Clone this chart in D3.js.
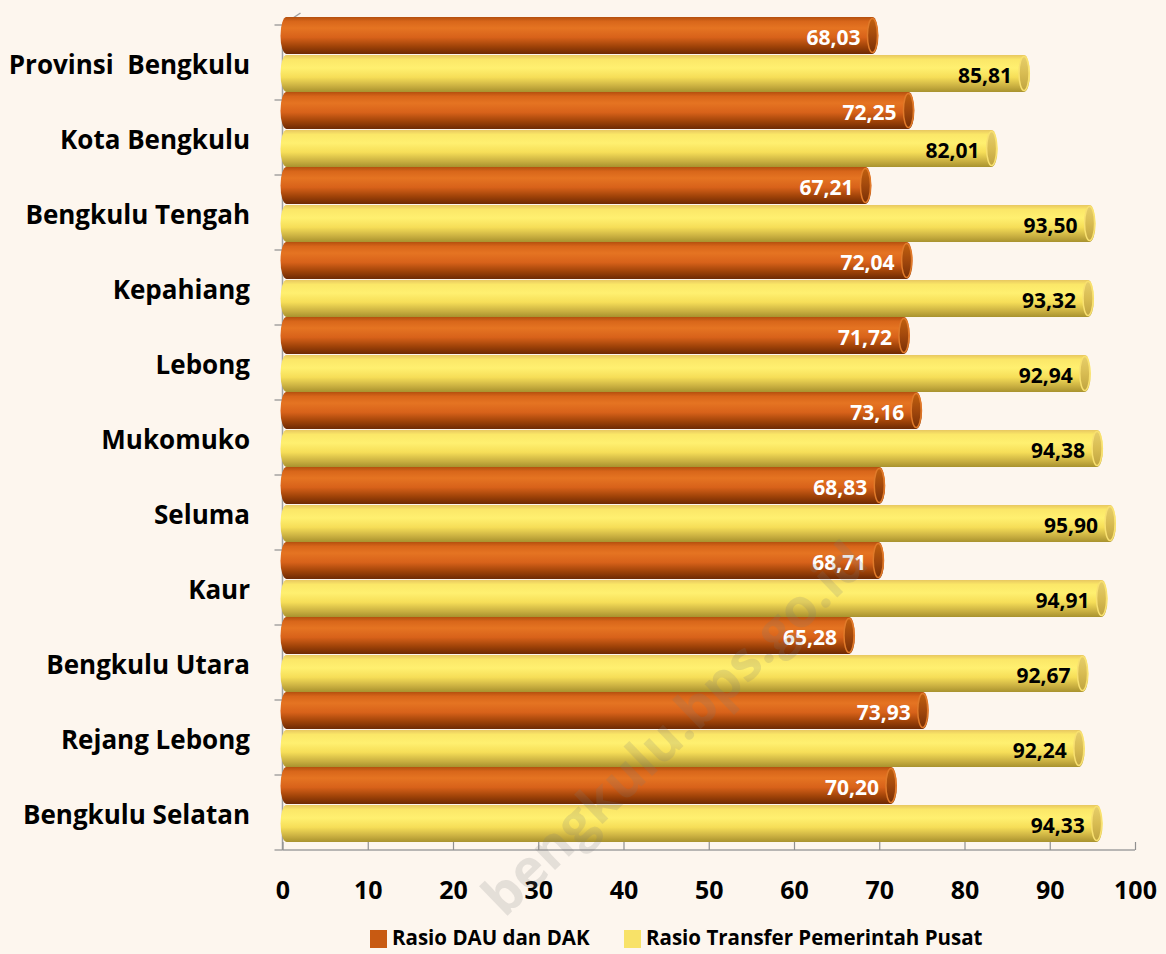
<!DOCTYPE html>
<html><head><meta charset="utf-8">
<script src="https://cdn.jsdelivr.net/npm/d3@7"></script>
<style>
html,body{margin:0;padding:0;background:#FDF6EE;}
svg{display:block;}
</style></head>
<body>
<svg id="chart" width="1166" height="954"></svg>
<script>
const categories = ["Provinsi  Bengkulu","Kota Bengkulu","Bengkulu Tengah","Kepahiang","Lebong","Mukomuko","Seluma","Kaur","Bengkulu Utara","Rejang Lebong","Bengkulu Selatan"];
const rasioDAU = [68.03,72.25,67.21,72.04,71.72,73.16,68.83,68.71,65.28,73.93,70.20];
const rasioTransfer = [85.81,82.01,93.50,93.32,92.94,94.38,95.90,94.91,92.67,92.24,94.33];
const xTicks = [0,10,20,30,40,50,60,70,80,90,100];
const seriesNames = ["Rasio DAU dan DAK","Rasio Transfer Pemerintah Pusat"];

const svg = d3.select("#chart");
const FONT = "'Open Sans', 'Noto Sans', sans-serif";
svg.append("rect").attr("width",1166).attr("height",954).attr("fill","#FDF6EE");

const x = d3.scaleLinear().domain([0,100]).range([282.5,1135]);
const y = d3.scaleBand().domain(categories).range([25,850]).paddingInner(0).paddingOuter(0);
const sub = d3.scaleBand().domain([0,1]).range([0,y.bandwidth()]).paddingInner(0.03).paddingOuter(0.0);
const SHIFT = -8; // 3D depth offset of bars

const defs = svg.append("defs");
function grad(id, stops){
  const g = defs.append("linearGradient").attr("id",id).attr("x1",0).attr("y1",0).attr("x2",0).attr("y2",1);
  stops.forEach(s=>g.append("stop").attr("offset",s[0]).attr("stop-color",s[1]));
}
grad("gOrange",[[0,"#B4500E"],[0.12,"#D8661A"],[0.3,"#E57422"],[0.55,"#D8621A"],[0.8,"#9E4208"],[1,"#6E2A04"]]);
grad("gYellow",[[0,"#E8C860"],[0.12,"#FBE768"],[0.35,"#FFF070"],[0.6,"#F6DE58"],[0.85,"#C8AE40"],[1,"#A8922E"]]);
grad("gOrangeCap",[[0,"#C0600E"],[0.5,"#A2480C"],[1,"#7A3006"]]);
grad("gYellowCap",[[0,"#E6CE6A"],[0.5,"#D8BC52"],[1,"#C0A440"]]);

// 3D axis wall edges
const axisG = svg.append("g");
axisG.append("line").attr("x1",x(0)).attr("x2",x(0)).attr("y1",25).attr("y2",850).attr("stroke","#A0A0A0").attr("stroke-width",1.5);
axisG.append("line").attr("x1",x(0)).attr("x2",x(0)+18).attr("y1",25).attr("y2",13).attr("stroke","#A0A0A0").attr("stroke-width",1.5);
const catTicks = categories.map(c=>y(c)).concat([850]);
axisG.selectAll(".ct").data(catTicks).enter().append("line")
  .attr("x1",x(0)-8).attr("x2",x(0)).attr("y1",d=>d).attr("y2",d=>d).attr("stroke","#909090").attr("stroke-width",1.2);

// x axis
const xAxis = d3.axisBottom(x).tickValues(xTicks).tickSize(8).tickFormat(d3.format("d"));
const xg = svg.append("g").attr("transform","translate(0,850)").call(xAxis);
xg.select(".domain").attr("stroke","#A0A0A0").attr("stroke-width",1.5).attr("d",`M${x(0)},0H${x(100)}`);
xg.selectAll(".tick line").attr("stroke","#909090").attr("stroke-width",1.2).attr("y1",-8).attr("y2",0);
xg.selectAll(".tick text").attr("font-family",FONT).attr("font-weight","bold").attr("font-size","25px").attr("fill","#000").attr("dy","1.5em");

// category labels
svg.append("g").selectAll("text").data(categories).enter().append("text")
  .attr("x",250).attr("y",d=>y(d)+y.bandwidth()/2+2).attr("dy","0.36em")
  .attr("text-anchor","end").attr("font-family",FONT).attr("font-weight","bold").attr("font-size","26px")
  .attr("fill","#000").style("white-space","pre").text(d=>d);

// bars
const series = [
  {vals:rasioDAU, grad:"gOrange", cap:"gOrangeCap", rim:"#E07A2A", label:"#FFFFFF"},
  {vals:rasioTransfer, grad:"gYellow", cap:"gYellowCap", rim:"#F8E070", label:"#000000"}
];
const DEPTH = 10;
series.forEach((s,si)=>{
  const g = svg.append("g");
  const data = categories.map((c,i)=>({c, v:s.vals[i]}));
  const bh = sub.bandwidth();
  const rx = 6;
  const top = d => y(d.c)+sub(si)+SHIFT;
  const items = g.selectAll("g.bar").data(data).enter().append("g").attr("class","bar");
  items.append("path").attr("d",d=>{
    const y0 = top(d), y1 = y0+bh;
    const x0 = x(0)+4, x1 = x(d.v)+DEPTH;
    return `M${x0},${y0} L${x1},${y0} A${rx},${bh/2} 0 0 1 ${x1},${y1} L${x0},${y1} A${rx},${bh/2} 0 0 1 ${x0},${y0} Z`;
  }).attr("fill",`url(#${s.grad})`);
  items.append("ellipse")
    .attr("cx",d=>x(d.v)+DEPTH).attr("cy",d=>top(d)+bh/2)
    .attr("rx",rx-1).attr("ry",bh/2-1.5)
    .attr("fill",`url(#${s.cap})`).attr("stroke",s.rim).attr("stroke-width",1.5);
  items.append("text")
    .attr("x",d=>x(d.v)-2).attr("y",d=>top(d)+bh/2+2).attr("dy","0.36em")
    .attr("text-anchor","end").attr("font-family",FONT).attr("font-weight","bold").attr("font-size","21px")
    .attr("fill",s.label).text(d=>d3.format(".2f")(d.v).replace(".",","));
});

// legend
const legend = svg.append("g");
const legX = [370, 624];
seriesNames.forEach((n,i)=>{
  legend.append("rect").attr("x",legX[i]).attr("y",930).attr("width",17).attr("height",18)
    .attr("fill", i===0?"#C85A12":"#F8E268");
  legend.append("text").attr("x",legX[i]+22).attr("y",938).attr("dy","0.36em")
    .attr("font-family",FONT).attr("font-weight","bold").attr("font-size","20.5px").attr("fill","#000").text(n);
});

// watermark
svg.append("text").attr("transform","translate(674,728) rotate(-44)")
  .attr("text-anchor","middle").attr("dy","0.36em")
  .attr("font-family",FONT).attr("font-weight","bold").attr("font-size","54px")
  .attr("fill","#7A7A7A").attr("opacity",0.18).text("bengkulu.bps.go.id");
</script>
</body></html>
